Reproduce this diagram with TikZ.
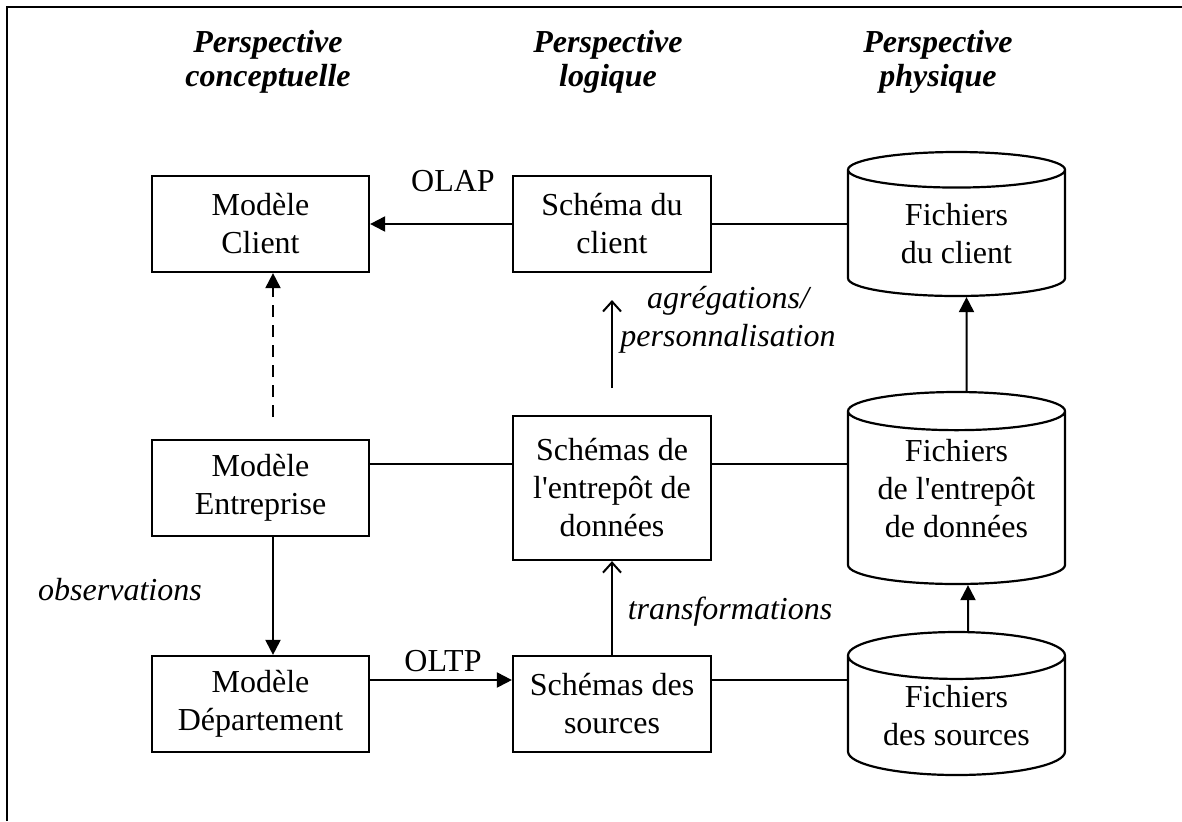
\documentclass[tikz,border=0pt]{standalone}
\usepackage{fontspec}
\setmainfont{Liberation Serif}
\usepackage{tikz}
\usetikzlibrary{arrows.meta,shapes.geometric}
\tikzstyle{boite}=[draw, rectangle, line width=1.1pt, align=center, inner sep=0pt, font=\fontsize{16}{19}\selectfont]
\tikzstyle{fichier}=[draw, cylinder, shape border rotate=90, aspect=0.32, line width=1.1pt, minimum width=108.5pt, align=center, inner sep=0pt, anchor=shape center, font=\fontsize{16}{19}\selectfont]
\tikzstyle{titre}=[align=center, font=\fontsize{16}{17}\selectfont\bfseries\itshape]
\tikzstyle{etiq}=[align=center, font=\fontsize{16}{19}\selectfont]
\tikzstyle{lien}=[line width=1pt]
\tikzstyle{plein}=[line width=1pt, -{Triangle[length=7.5pt,width=7.5pt]}]
\tikzstyle{ouvert}=[line width=1pt, -{Straight Barb[length=5pt,width=9pt]}]

\begin{document}
\begin{tikzpicture}[x=0.5pt, y=-0.5pt]
        \useasboundingbox (0,0) rectangle (1182,821);
        \draw [line width=1pt] (7,821) -- (7,7) -- (1182,7);
        % titres des colonnes
        \node(t1) [titre] at (268, 62){Perspective\\conceptuelle};
        \node(t2) [titre] at (608, 62){Perspective\\logique};
        \node(t3) [titre] at (938, 62){Perspective\\physique};
        % modeles
        \node(mc) [boite, minimum width=108.5pt, minimum height=48pt] at (260.5, 224){Modèle\\Client};
        \node(me) [boite, minimum width=108.5pt, minimum height=48pt] at (260.5, 488){Modèle\\Entreprise};
        \node(md) [boite, minimum width=108.5pt, minimum height=48pt] at (260.5, 704){Modèle\\Département};
        % schemas
        \node(sc) [boite, minimum width=99pt, minimum height=48pt] at (612, 224){Schéma du\\client};
        \node(se) [boite, minimum width=99pt, minimum height=72pt] at (612, 488){Schémas de\\l\textquotesingle entrepôt de\\données};
        \node(ss) [boite, minimum width=99pt, minimum height=48pt] at (612, 704){Schémas des\\sources};
        % fichiers
        \node(fc) [fichier, minimum height=72pt] at (956.5, 224){Fichiers\\du client};
        \node(fe) [fichier, minimum height=96pt, aspect=0.37] at (956.5, 488){\phantom{Fichiers}\\\phantom{des}};
        \node(fet) [etiq] at (956.5, 489){Fichiers\\de l\textquotesingle entrepôt\\de données};
        \node(fs) [fichier, minimum height=71.5pt] at (956.5, 703.5){Fichiers\\des sources};
        \coordinate(d0) at (273, 417);
        \coordinate(a0) at (612, 388);
        \coordinate(a1) at (612, 300);
        % liens
        \draw[plein] (sc.west) to (mc.east);
        \draw[lien] (sc.east) to (sc.east -| fc.west);
        \draw[plein, dash pattern=on 6pt off 4pt] (d0) to ([xshift=6.25pt]mc.south);
        \draw[lien] ([yshift=12pt]me.east) to ([yshift=12pt]se.west);
        \draw[lien] ([yshift=12pt]se.east) to ([yshift=12pt]se.east -| fe.west);
        \draw[plein] ([xshift=6.25pt]me.south) to ([xshift=6.25pt]md.north);
        \draw[plein] ([yshift=12pt]md.east) to ([yshift=12pt]ss.west);
        \draw[lien] ([yshift=12pt]ss.east) to ([yshift=12pt]ss.east -| fs.west);
        \draw[ouvert] (ss.north) to (se.south);
        \draw[ouvert] (a0) to (a1);
        \draw[plein] ([xshift=5.75pt]fs.north) to ([xshift=5.75pt]fe.south);
        \draw[plein] ([xshift=5pt]fe.north) to ([xshift=5pt]fc.south);
        % etiquettes
        \node(olap) [etiq] at (453, 181){OLAP};
        \node(oltp) [etiq] at (443, 661){OLTP};
        \node(obs) [etiq, font=\fontsize{16}{19}\selectfont\itshape] at (120, 590){observations};
        \node(tra) [etiq, font=\fontsize{16}{19}\selectfont\itshape] at (730, 612){transformations};
        \node(agr) [etiq, font=\fontsize{16}{19}\selectfont\itshape] at (728, 320){agrégations/\\personnalisation};
     \end{tikzpicture}
\end{document}
